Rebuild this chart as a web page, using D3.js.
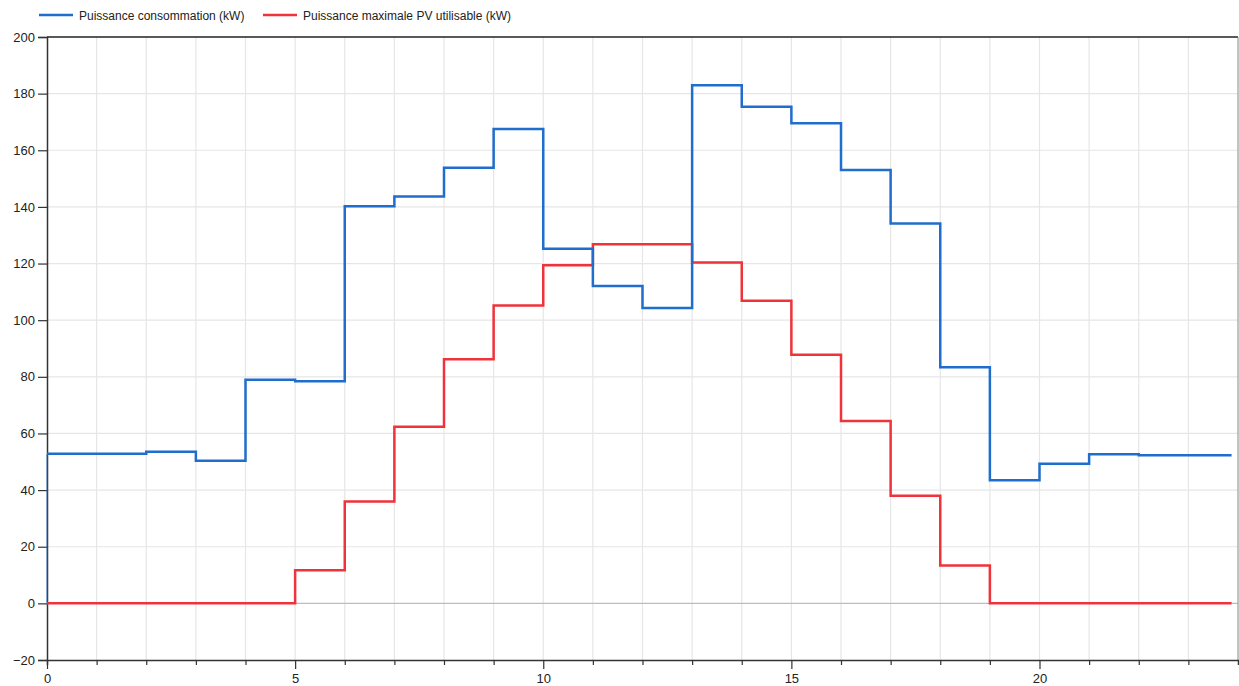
<!DOCTYPE html>
<html lang="fr">
<head>
    <meta charset="UTF-8">
    <title>Puissance consommation / PV</title>
    <script type="text/javascript" src="https://cdn.jsdelivr.net/npm/d3@7"></script>
    <style type="text/css">
        body { margin: 0; background: #fff; }
        text { font-family: "Liberation Sans", Arial, sans-serif; }
    </style>
</head>
<body>
    <script type="text/javascript">

        var w = 1239;
        var h = 686;

        // hours at which each step starts, plus the end of the last step
        var hours = [0, 1, 2, 3, 4, 5, 6, 7, 8, 9, 10, 11, 12, 13, 14, 15, 16, 17, 18, 19, 20, 21, 22, 23];
        var endHour = 23.87;

        var consommation = [52.8, 52.8, 53.5, 50.4, 79.0, 78.4, 140.2, 143.7, 153.8, 167.5, 125.2, 112.1,
                            104.3, 183.0, 175.4, 169.5, 153.0, 134.1, 83.4, 43.5, 49.3, 52.7, 52.3, 52.3];
        var pvMax = [0, 0, 0, 0, 0, 11.7, 36.0, 62.4, 86.2, 105.2, 119.4, 126.8,
                     126.8, 120.4, 106.9, 87.8, 64.4, 38.0, 13.4, 0, 0, 0, 0, 0];

        var seriesNames = ["Puissance consommation (kW)", "Puissance maximale PV utilisable (kW)"];
        var seriesColors = ["#1f6dcc", "#f0333a"];

        var yTicks = [-20, 0, 20, 40, 60, 80, 100, 120, 140, 160, 180, 200];
        var xLabelTicks = [0, 5, 10, 15, 20];

        var plotL = 47, plotR = 1238, plotT = 37, plotB = 660;

        var x = d3.scaleLinear().domain([0, 24]).range([plotL, plotR]);
        var y = d3.scaleLinear().domain([-20, 200]).range([plotB, plotT]);

        var svg = d3.select("body")
                    .append("svg")
                    .attr("width", w)
                    .attr("height", h);

        // grid
        svg.append("g")
            .selectAll("line")
            .data(d3.range(1, 24))
            .enter()
            .append("line")
            .attr("x1", function(d) { return x(d); })
            .attr("x2", function(d) { return x(d); })
            .attr("y1", plotT)
            .attr("y2", plotB)
            .attr("stroke", "#e6e6e6")
            .attr("stroke-width", 1.2);

        svg.append("g")
            .selectAll("line")
            .data(yTicks.slice(1, -1))
            .enter()
            .append("line")
            .attr("x1", plotL)
            .attr("x2", plotR)
            .attr("y1", function(d) { return y(d); })
            .attr("y2", function(d) { return y(d); })
            .attr("stroke", function(d) { return d === 0 ? "#bdbdbd" : "#e6e6e6"; })
            .attr("stroke-width", 1.2);

        // frame
        svg.append("line")
            .attr("x1", plotL).attr("x2", plotR)
            .attr("y1", plotT).attr("y2", plotT)
            .attr("stroke", "#222").attr("stroke-width", 1.5);
        svg.append("line")
            .attr("x1", plotR).attr("x2", plotR)
            .attr("y1", plotT).attr("y2", plotB)
            .attr("stroke", "#888").attr("stroke-width", 1);

        // y axis
        var yAxis = d3.axisLeft(y)
                      .tickValues(yTicks)
                      .tickSize(9)
                      .tickPadding(3);
        var gy = svg.append("g")
                    .attr("transform", "translate(" + plotL + ",0)")
                    .call(yAxis);
        gy.select(".domain").attr("stroke", "#333").attr("stroke-width", 1.5);
        gy.selectAll(".tick line").attr("stroke", "#333").attr("stroke-width", 1.2);
        gy.selectAll(".tick text")
            .attr("font-size", "13px")
            .attr("font-family", "Liberation Sans, Arial, sans-serif")
            .attr("fill", "#222");

        // x axis: a tick every hour, labels every 5 hours
        var xAxis = d3.axisBottom(x)
                      .tickValues(d3.range(0, 24))
                      .tickSize(5)
                      .tickPadding(9)
                      .tickFormat(function(d) { return xLabelTicks.indexOf(d) >= 0 ? d : ""; });
        var gx = svg.append("g")
                    .attr("transform", "translate(0," + plotB + ")")
                    .call(xAxis);
        gx.select(".domain").attr("stroke", "#333").attr("stroke-width", 1.5);
        gx.selectAll(".tick line")
            .attr("stroke", "#333")
            .attr("stroke-width", 1.2)
            .attr("y2", function(d) { return xLabelTicks.indexOf(d) >= 0 ? 9 : 5; });
        gx.selectAll(".tick text")
            .attr("font-size", "13px")
            .attr("font-family", "Liberation Sans, Arial, sans-serif")
            .attr("fill", "#222");

        // step lines
        function stepPoints(values) {
            var pts = values.map(function(v, i) { return [hours[i], v]; });
            pts.push([endHour, values[values.length - 1]]);
            return pts;
        }

        var line = d3.line()
                     .x(function(d) { return x(d[0]); })
                     .y(function(d) { return y(d[1]); })
                     .curve(d3.curveStepAfter);

        [pvMax, consommation].forEach(function(vals, k) {
            var idx = 1 - k;
            // thin initial rise from 0 at t = 0
            svg.append("line")
                .attr("x1", x(hours[0])).attr("x2", x(hours[0]))
                .attr("y1", y(0)).attr("y2", y(vals[0]))
                .attr("stroke", seriesColors[idx])
                .attr("stroke-opacity", 0.65)
                .attr("stroke-width", 1.2);
            svg.append("path")
                .datum(stepPoints(vals))
                .attr("d", line)
                .attr("fill", "none")
                .attr("stroke", seriesColors[idx])
                .attr("stroke-width", 2.5);
        });

        // legend
        var legendX = [39, 263];
        var legend = svg.append("g");
        seriesNames.forEach(function(name, i) {
            legend.append("line")
                .attr("x1", legendX[i]).attr("x2", legendX[i] + 34)
                .attr("y1", 15).attr("y2", 15)
                .attr("stroke", seriesColors[i])
                .attr("stroke-width", 2.5);
            legend.append("text")
                .attr("x", legendX[i] + 40)
                .attr("y", 20)
                .attr("font-size", "12px")
                .attr("fill", "#222")
                .text(name);
        });

    </script>
</body>
</html>
